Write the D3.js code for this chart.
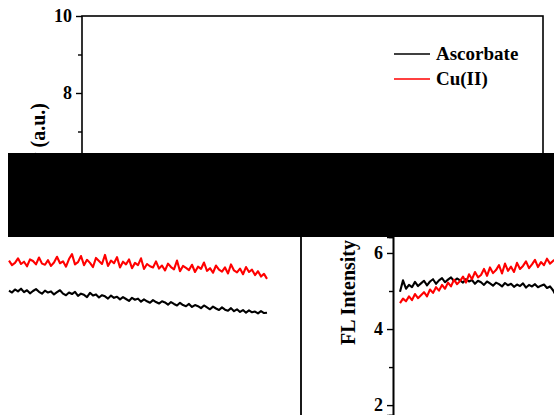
<!DOCTYPE html>
<html>
<head>
<meta charset="utf-8">
<script src="https://cdn.jsdelivr.net/npm/d3@7"></script>
<style>
  html, body { margin: 0; padding: 0; background: #fff; }
  svg { display: block; }
  text { font-family: "Liberation Serif", "Times New Roman", serif; font-weight: bold; fill: #000; }
</style>
</head>
<body>
<div id="chart"></div>
<script>
// ---- data ----
const seriesNames = ['Ascorbate', 'Cu(II)'];
const seriesColors = ['#000000', '#ff0000'];

// left panel, one sample every 3 s
const leftAscorbate = [
  5.01,4.96,5.04,4.99,5.06,4.97,5.02,4.94,5.00,5.05,
  4.98,4.93,5.01,4.96,4.99,4.91,4.97,5.02,4.93,4.89,
  4.96,4.92,4.98,4.87,4.93,4.90,4.84,4.95,4.88,4.91,
  4.83,4.89,4.86,4.80,4.88,4.82,4.85,4.78,4.84,4.79,
  4.74,4.82,4.77,4.80,4.72,4.78,4.73,4.69,4.76,4.71,
  4.67,4.73,4.70,4.64,4.71,4.66,4.62,4.69,4.63,4.60,
  4.66,4.58,4.63,4.60,4.55,4.62,4.57,4.52,4.59,4.54,
  4.50,4.57,4.51,4.48,4.55,4.47,4.52,4.45,4.50,4.43,
  4.49,4.44,4.46,4.41,4.47,4.42,4.43
];
const leftCu = [
  5.80,5.68,5.74,5.86,5.71,5.77,5.65,5.83,5.79,5.70,
  5.88,5.72,5.69,5.81,5.66,5.75,5.90,5.73,5.78,5.64,
  5.84,5.97,5.70,5.76,5.92,5.68,5.82,5.74,5.63,5.87,
  5.79,5.71,5.95,5.66,5.80,5.73,5.89,5.62,5.77,5.70,
  5.83,5.60,5.74,5.68,5.86,5.58,5.71,5.65,5.62,5.78,
  5.59,5.67,5.54,5.72,5.63,5.57,5.80,5.52,5.66,5.61,
  5.55,5.69,5.50,5.64,5.58,5.75,5.53,5.60,5.48,5.67,
  5.56,5.51,5.62,5.46,5.70,5.54,5.49,5.59,5.44,5.63,
  5.50,5.56,5.42,5.52,5.38,5.45,5.32
];

// right panel, one sample every 3 s
const rightAscorbate = [
  4.98,5.28,5.06,5.16,5.10,5.24,5.13,5.20,5.27,5.15,
  5.25,5.31,5.19,5.28,5.34,5.23,5.30,5.36,5.26,5.33,
  5.28,5.22,5.31,5.25,5.29,5.19,5.27,5.23,5.16,5.25,
  5.20,5.14,5.22,5.18,5.12,5.21,5.15,5.19,5.11,5.17,
  5.13,5.20,5.09,5.16,5.12,5.18,5.10,5.14,5.17,5.08,
  5.12,5.02,4.88
];
const rightCu = [
  4.68,4.80,4.73,4.86,4.76,4.92,4.81,4.89,4.97,4.86,
  5.04,4.95,5.10,5.01,5.16,5.06,5.22,5.12,5.30,5.18,
  5.26,5.38,5.22,5.44,5.31,5.50,5.36,5.42,5.58,5.40,
  5.62,5.47,5.55,5.68,5.46,5.72,5.53,5.64,5.50,5.74,
  5.58,5.66,5.78,5.60,5.70,5.82,5.63,5.76,5.68,5.85,
  5.72,5.79,5.84
];

const topMajorTicks = [6, 8, 10];
const topMinorTicks = [7, 9];
const bottomMajorTicks = [2, 4, 6];
const bottomMinorTicks = [3, 5];
const yLabel = 'FL Intensity (a.u.)';
const timeStep = 3;

// ---- layout ----
const width = 554, height = 415;
const bandTop = 153, bandBottom = 237;

const svg = d3.select('#chart').append('svg')
  .attr('width', width)
  .attr('height', height);

const defs = svg.append('defs');
defs.append('clipPath').attr('id', 'clipTop')
  .append('rect').attr('x', 0).attr('y', 0).attr('width', width).attr('height', bandTop);
defs.append('clipPath').attr('id', 'clipBottom')
  .append('rect').attr('x', 8).attr('y', bandBottom).attr('width', width - 8).attr('height', height - bandBottom);

// ---- top piece: upper part of the chart ----
const topG = svg.append('g').attr('clip-path', 'url(#clipTop)');
const topY = d3.scaleLinear().domain([5, 10]).range([208.5, 16]);

topG.append('rect')
  .attr('x', 82).attr('y', 16)
  .attr('width', 543 - 82).attr('height', 200)
  .attr('fill', 'none').attr('stroke', '#000').attr('stroke-width', 1.6);

const topAxis = topG.append('g')
  .attr('transform', 'translate(82,0)')
  .call(d3.axisLeft(topY).tickValues(topMajorTicks).tickSize(6).tickPadding(4).tickFormat(d3.format('d')));
topG.append('g')
  .attr('transform', 'translate(82,0)')
  .call(d3.axisLeft(topY).tickValues(topMinorTicks).tickSize(4).tickFormat(''));
topG.selectAll('.domain').remove();
topG.selectAll('.tick line').attr('stroke', '#000').attr('stroke-width', 1.4);
topAxis.selectAll('text').style('font-size', '18px').attr('font-family', null);

topG.append('text')
  .attr('transform', 'translate(45,103) rotate(-90)')
  .attr('text-anchor', 'end')
  .style('font-size', '20px')
  .text(yLabel);

// legend
const legend = topG.append('g').attr('transform', 'translate(394,54)');
seriesNames.forEach((name, i) => {
  const row = legend.append('g').attr('transform', `translate(0,${i * 25})`);
  row.append('line')
    .attr('x1', 0).attr('x2', 36)
    .attr('stroke', seriesColors[i]).attr('stroke-width', 1.6);
  row.append('text')
    .attr('x', 42).attr('y', 6)
    .style('font-size', '19px')
    .text(name);
});

// ---- bottom piece: two panels ----
const bottom = svg.append('g').attr('clip-path', 'url(#clipBottom)');
const botY = d3.scaleLinear().domain([1.74, 6.42]).range([415, 237]);

const line = (x) => d3.line()
  .x((d, i) => x(i * timeStep))
  .y(d => botY(d));

// left panel
const leftX = d3.scaleLinear().domain([0, 258]).range([9, 267]);
const leftG = bottom.append('g');
leftG.append('line')
  .attr('x1', 301).attr('x2', 301).attr('y1', 230).attr('y2', 420)
  .attr('stroke', '#000').attr('stroke-width', 1.8);
[leftAscorbate, leftCu].forEach((vals, i) => {
  leftG.append('path')
    .datum(vals)
    .attr('d', line(leftX))
    .attr('fill', 'none')
    .attr('stroke', seriesColors[i])
    .attr('stroke-width', 2.1)
    .attr('stroke-linejoin', 'round');
});

// right panel
const rightX = d3.scaleLinear().domain([0, 156]).range([400, 556]);
const rightG = bottom.append('g');
const rAxis = rightG.append('g')
  .attr('transform', 'translate(393,0)')
  .call(d3.axisLeft(botY).tickValues(bottomMajorTicks).tickSize(6).tickPadding(4).tickFormat(d3.format('d')));
rightG.append('g')
  .attr('transform', 'translate(393,0)')
  .call(d3.axisLeft(botY).tickValues(bottomMinorTicks).tickSize(4).tickFormat(''));
rightG.selectAll('.domain').attr('stroke', '#000').attr('stroke-width', 1.6);
rightG.selectAll('.tick line').attr('stroke', '#000').attr('stroke-width', 1.4);
rAxis.selectAll('text').style('font-size', '18px').attr('font-family', null);

rightG.append('text')
  .attr('transform', 'translate(355,345) rotate(-90)')
  .attr('text-anchor', 'start')
  .style('font-size', '20px')
  .text(yLabel);

[rightAscorbate, rightCu].forEach((vals, i) => {
  rightG.append('path')
    .datum(vals)
    .attr('d', line(rightX))
    .attr('fill', 'none')
    .attr('stroke', seriesColors[i])
    .attr('stroke-width', 2.1)
    .attr('stroke-linejoin', 'round');
});

// ---- black band across the middle ----
svg.append('rect')
  .attr('x', 8).attr('y', bandTop)
  .attr('width', width - 8).attr('height', bandBottom - bandTop)
  .attr('fill', '#000');
</script>
</body>
</html>
